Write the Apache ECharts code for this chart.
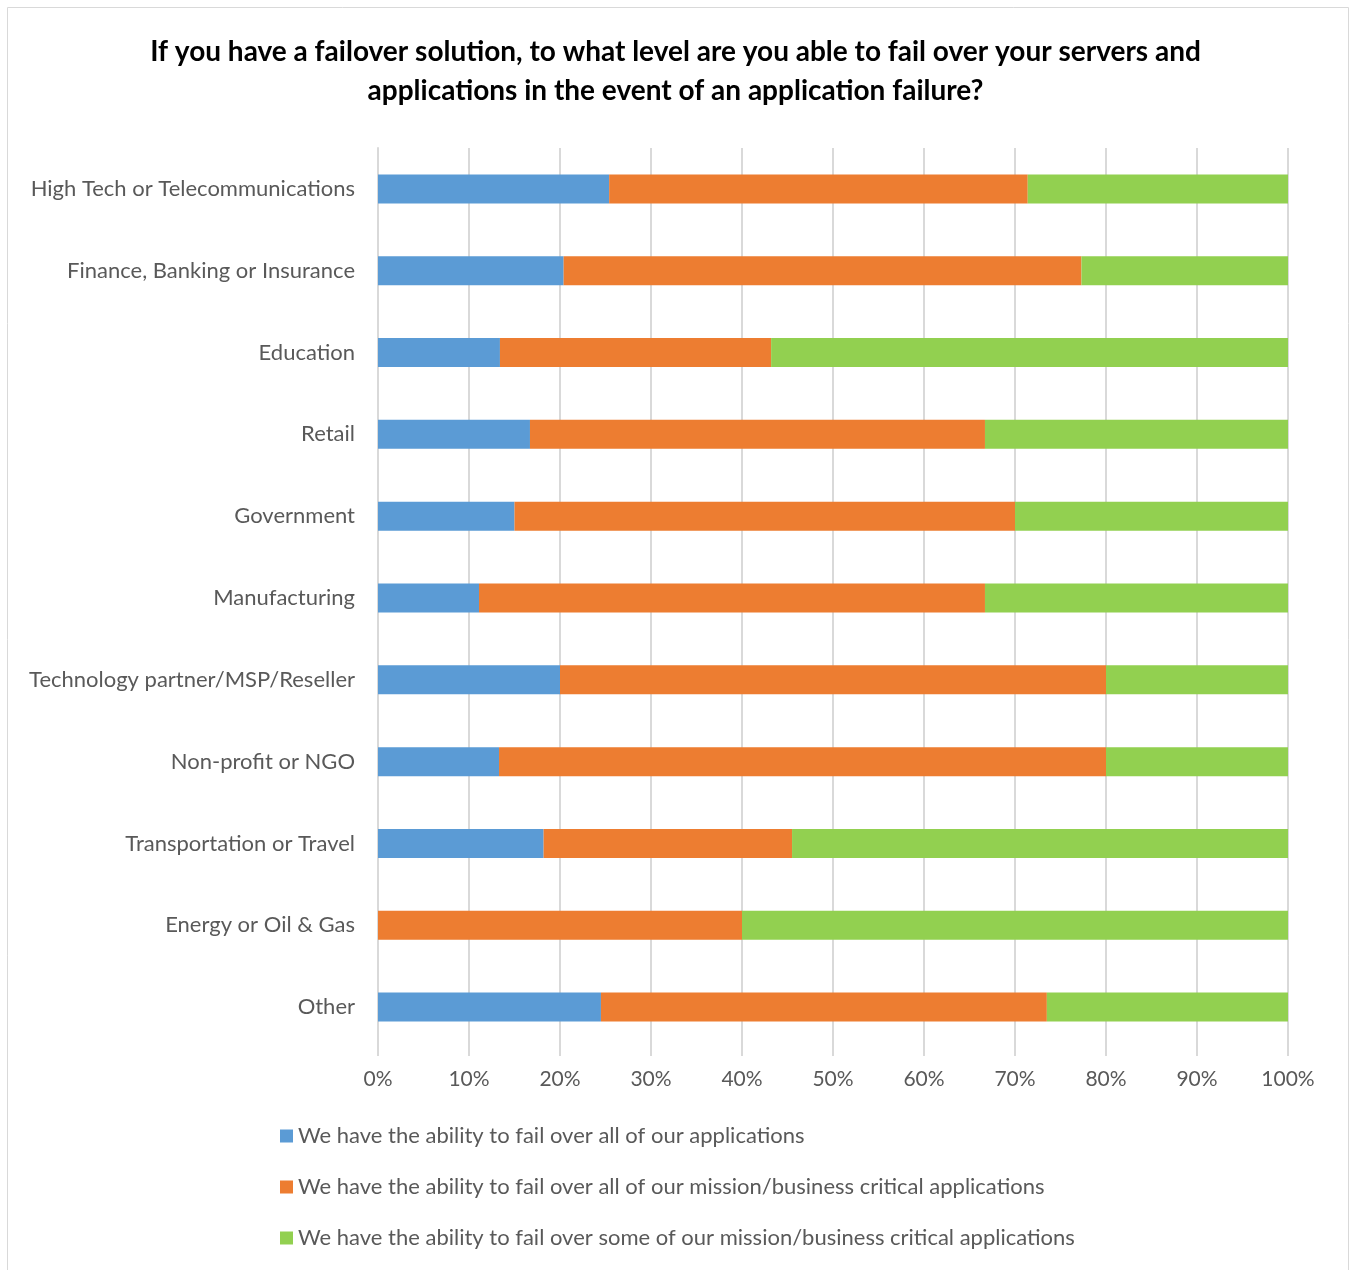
<!DOCTYPE html>
<html><head><meta charset="utf-8">
<script src="https://cdn.jsdelivr.net/npm/echarts@6/dist/echarts.min.js"></script>
<style>html,body{margin:0;padding:0;background:#fff}#c{width:1351px;height:1270px}</style>
</head><body><div id="c"></div>
<script>
const categories = ["High Tech or Telecommunications","Finance, Banking or Insurance","Education","Retail","Government","Manufacturing","Technology partner/MSP/Reseller","Non-profit or NGO","Transportation or Travel","Energy or Oil & Gas","Other"];
const seriesNames = ["We have the ability to fail over all of our applications","We have the ability to fail over all of our mission/business critical applications","We have the ability to fail over some of our mission/business critical applications"];
const allApps = [25.4,20.4,13.4,16.7,15.0,11.1,20.0,13.3,18.2,0,24.5];
const allCritical = [46.0,56.9,29.8,50.0,55.0,55.6,60.0,66.7,27.3,40.0,49.0];
const someCritical = [28.6,22.7,56.8,33.3,30.0,33.3,20.0,20.0,54.5,60.0,26.5];
const tickLabels = ["0%","10%","20%","30%","40%","50%","60%","70%","80%","90%","100%"];
const colors = ["#5b9bd5","#ed7d31","#92d050"];
const font = "Lato, 'Open Sans', sans-serif";
const chart = echarts.init(document.getElementById('c'));
const dataSets=[allApps,allCritical,someCritical];
chart.setOption({
  animation:false,
  title:{text:"If you have a failover solution, to what level are you able to fail over your servers and\napplications in the event of an application failure?",left:'center',top:27,
    textStyle:{fontFamily:font,fontWeight:'bold',fontSize:28,lineHeight:39,color:'#000'}},
  graphic:[{type:'rect',shape:{x:7.5,y:7.5,width:1341,height:1275},style:{fill:'none',stroke:'#d9d9d9',lineWidth:1},silent:true}],
  grid:{left:378,right:63,top:148,bottom:222,containLabel:false},
  legend:{orient:'vertical',left:275,top:1120,itemGap:29,itemWidth:13,itemHeight:13,icon:'rect',
    textStyle:{fontFamily:font,fontSize:22,color:'#595959',padding:[0,0,0,0]},data:seriesNames},
  xAxis:{type:'value',min:0,max:100,interval:10,
    axisLabel:{formatter:(v)=>tickLabels[Math.round(v/10)],fontFamily:font,fontSize:21,color:'#595959',margin:21},
    splitLine:{lineStyle:{color:'#d9d9d9',width:2}},axisLine:{show:false},
    axisTick:{show:true,length:8,lineStyle:{color:'#d9d9d9',width:2}}},
  yAxis:{type:'category',inverse:true,data:categories,
    axisLabel:{fontFamily:font,fontSize:22,color:'#595959',margin:23},
    axisLine:{lineStyle:{color:'#d9d9d9',width:2}},axisTick:{show:false}},
  series:seriesNames.map((n,i)=>({name:n,type:'bar',stack:'t',barWidth:29,data:dataSets[i],
    itemStyle:{color:colors[i]}}))
});
</script></body></html>
